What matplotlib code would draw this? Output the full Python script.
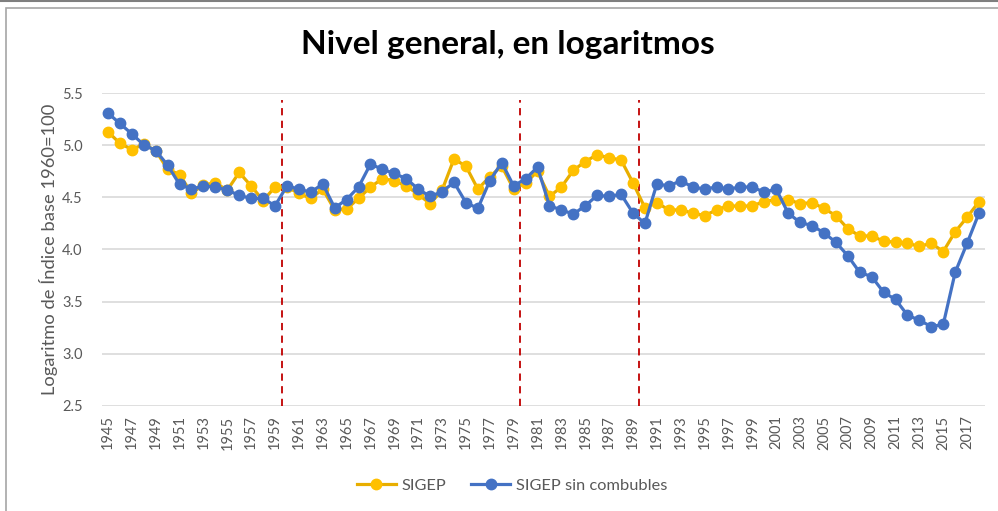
import matplotlib.pyplot as plt
from matplotlib.patches import Rectangle
from matplotlib.lines import Line2D

plt.rcParams['font.family'] = ['Lato', 'DejaVu Sans']

years = list(range(1945, 2019))
sigep = [5.13, 5.02, 4.96, 5.01, 4.95, 4.77, 4.72, 4.54, 4.62, 4.64,
         4.57, 4.74, 4.61, 4.47, 4.60, 4.60, 4.54, 4.49, 4.58, 4.38,
         4.39, 4.49, 4.60, 4.68, 4.66, 4.61, 4.53, 4.44, 4.57, 4.87,
         4.80, 4.58, 4.70, 4.80, 4.58, 4.64, 4.75, 4.51, 4.60, 4.76,
         4.845, 4.91, 4.88, 4.86, 4.64, 4.40, 4.45, 4.38, 4.38, 4.35,
         4.325, 4.38, 4.42, 4.415, 4.42, 4.46, 4.48, 4.48, 4.44, 4.45,
         4.395, 4.325, 4.20, 4.13, 4.13, 4.08, 4.07, 4.06, 4.03, 4.06,
         3.98, 4.17, 4.31, 4.46]
sin_comb = [5.31, 5.21, 5.11, 5.005, 4.95, 4.81, 4.625, 4.58, 4.61, 4.60,
            4.57, 4.52, 4.49, 4.49, 4.42, 4.61, 4.58, 4.55, 4.63, 4.40,
            4.48, 4.60, 4.82, 4.77, 4.73, 4.68, 4.58, 4.51, 4.555, 4.645,
            4.45, 4.395, 4.66, 4.835, 4.61, 4.68, 4.79, 4.42, 4.38, 4.34,
            4.42, 4.52, 4.51, 4.53, 4.35, 4.25, 4.63, 4.61, 4.66, 4.60,
            4.58, 4.60, 4.58, 4.60, 4.60, 4.55, 4.58, 4.35, 4.26, 4.23,
            4.16, 4.07, 3.94, 3.78, 3.74, 3.59, 3.52, 3.37, 3.32, 3.26,
            3.28, 3.78, 4.06, 4.35]
cortes = [1959.55, 1979.55, 1989.5]

fig = plt.figure(figsize=(9.98, 5.11), dpi=100)
# marco del grafico
fig.add_artist(Line2D([0, 1], [0.999, 0.999], color='#7f7f7f', lw=1.5, transform=fig.transFigure))
fig.add_artist(Rectangle((6 / 998, -0.1), 1.2, (511 - 8) / 511 + 0.1, transform=fig.transFigure,
                         fill=False, edgecolor='#a6a6a6', lw=1.2))

ax = fig.add_axes([102 / 998, (511 - 405.7) / 511, 883 / 998, 312.4 / 511])
ax.plot(years, sigep, color='#E8AE00', lw=2.3, marker='o', ms=7.5,
        mfc='#FFC000', mec='#FFC000', label='SIGEP', zorder=3)
ax.plot(years, sin_comb, color='#4472C4', lw=2.3, marker='o', ms=7.5,
        mfc='#4472C4', mec='#4472C4', label='SIGEP sin combubles', zorder=4)
for c in cortes:
    ax.axvline(c, color='#C00000', ls=(0, (4, 3)), lw=1.3, ymax=0.98, zorder=2)

ax.set_xlim(1944.5, 2018.5)
ax.set_ylim(2.5, 5.5)
ax.set_yticks([2.5, 3.0, 3.5, 4.0, 4.5, 5.0, 5.5])
ax.set_yticklabels(['%.1f' % v for v in ax.get_yticks()])
ax.set_xticks(years[::2])
ax.set_xticklabels([str(y) for y in years[::2]], rotation=90)
ax.grid(axis='y', color='#d9d9d9', lw=1.2)
ax.set_axisbelow(True)
for s in ax.spines.values():
    s.set_visible(False)
ax.tick_params(length=0, colors='#595959', labelsize=10.5)
ax.tick_params(axis='y', pad=14)
ax.tick_params(axis='x', pad=7)
ax.set_ylabel('Logaritmo de Índice base 1960=100', color='#595959', fontsize=13.2, labelpad=3)

fig.text(0.509, 0.913, 'Nivel general, en logaritmos', ha='center', va='center',
         fontsize=24, fontweight='bold', color='black')
fig.legend(loc='center', bbox_to_anchor=(0.513, 0.049), ncol=2, frameon=False,
           fontsize=11.8, labelcolor='#595959', handlelength=2.4, handletextpad=0.35,
           columnspacing=1.5)

fig.savefig('out.png', dpi=100)
